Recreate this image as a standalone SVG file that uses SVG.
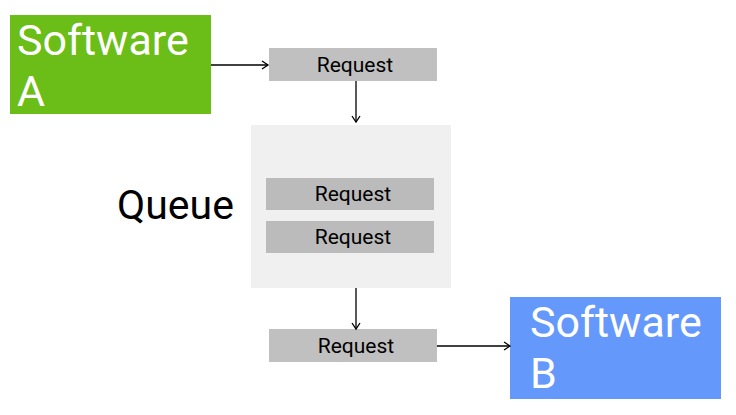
<svg xmlns="http://www.w3.org/2000/svg" width="736" height="415" viewBox="0 0 736 415">
<defs>
<style>
.big{font-family:Roboto,"Liberation Sans",sans-serif;font-size:43px;fill:#ffffff}
.req{font-family:Roboto,"Liberation Sans",sans-serif;font-size:21px;fill:#000000;text-anchor:middle}
.conn{stroke:#000000;stroke-width:1.3;fill:none}
</style>
<marker id="arr" markerWidth="10" markerHeight="10" refX="8" refY="5" orient="auto" markerUnits="userSpaceOnUse">
<path d="M2,1 L8,5 L2,9" fill="none" stroke="#000" stroke-width="1.3"/>
</marker>
</defs>
<rect width="736" height="415" fill="#ffffff"/>
<g id="softwareA">
<rect x="10" y="15" width="201" height="99" fill="#6bbd17"/>
<text class="big" x="17" y="55">Software</text>
<text class="big" x="17" y="106">A</text>
</g>
<g id="request1">
<rect x="269" y="48" width="168" height="33" fill="#c0c0c0"/>
<text class="req" x="355" y="72">Request</text>
</g>
<g id="queue">
<rect x="251" y="125" width="200" height="163" fill="#f0f0f0"/>
<text x="117" y="219" style="font-family:Roboto,'Liberation Sans',sans-serif;font-size:41px;fill:#000">Queue</text>
</g>
<g id="request2">
<rect x="266" y="178" width="168" height="32" fill="#bbbbbb"/>
<text class="req" x="353" y="201">Request</text>
</g>
<g id="request3">
<rect x="266" y="221" width="168" height="32" fill="#bbbbbb"/>
<text class="req" x="353" y="244">Request</text>
</g>
<g id="request4">
<rect x="269" y="329" width="168" height="33" fill="#c0c0c0"/>
<text class="req" x="356" y="353">Request</text>
</g>
<g id="softwareB">
<rect x="510" y="297" width="211" height="102" fill="#6498fb"/>
<text class="big" x="530" y="337">Software</text>
<text class="big" x="530" y="388">B</text>
</g>
<g id="connectors">
<line class="conn" x1="211" y1="65" x2="268" y2="65" marker-end="url(#arr)"/>
<line class="conn" x1="356" y1="81" x2="356" y2="122" marker-end="url(#arr)"/>
<line class="conn" x1="356" y1="288" x2="356" y2="329" marker-end="url(#arr)"/>
<line class="conn" x1="437" y1="346" x2="510" y2="346" marker-end="url(#arr)"/>
</g>
</svg>
